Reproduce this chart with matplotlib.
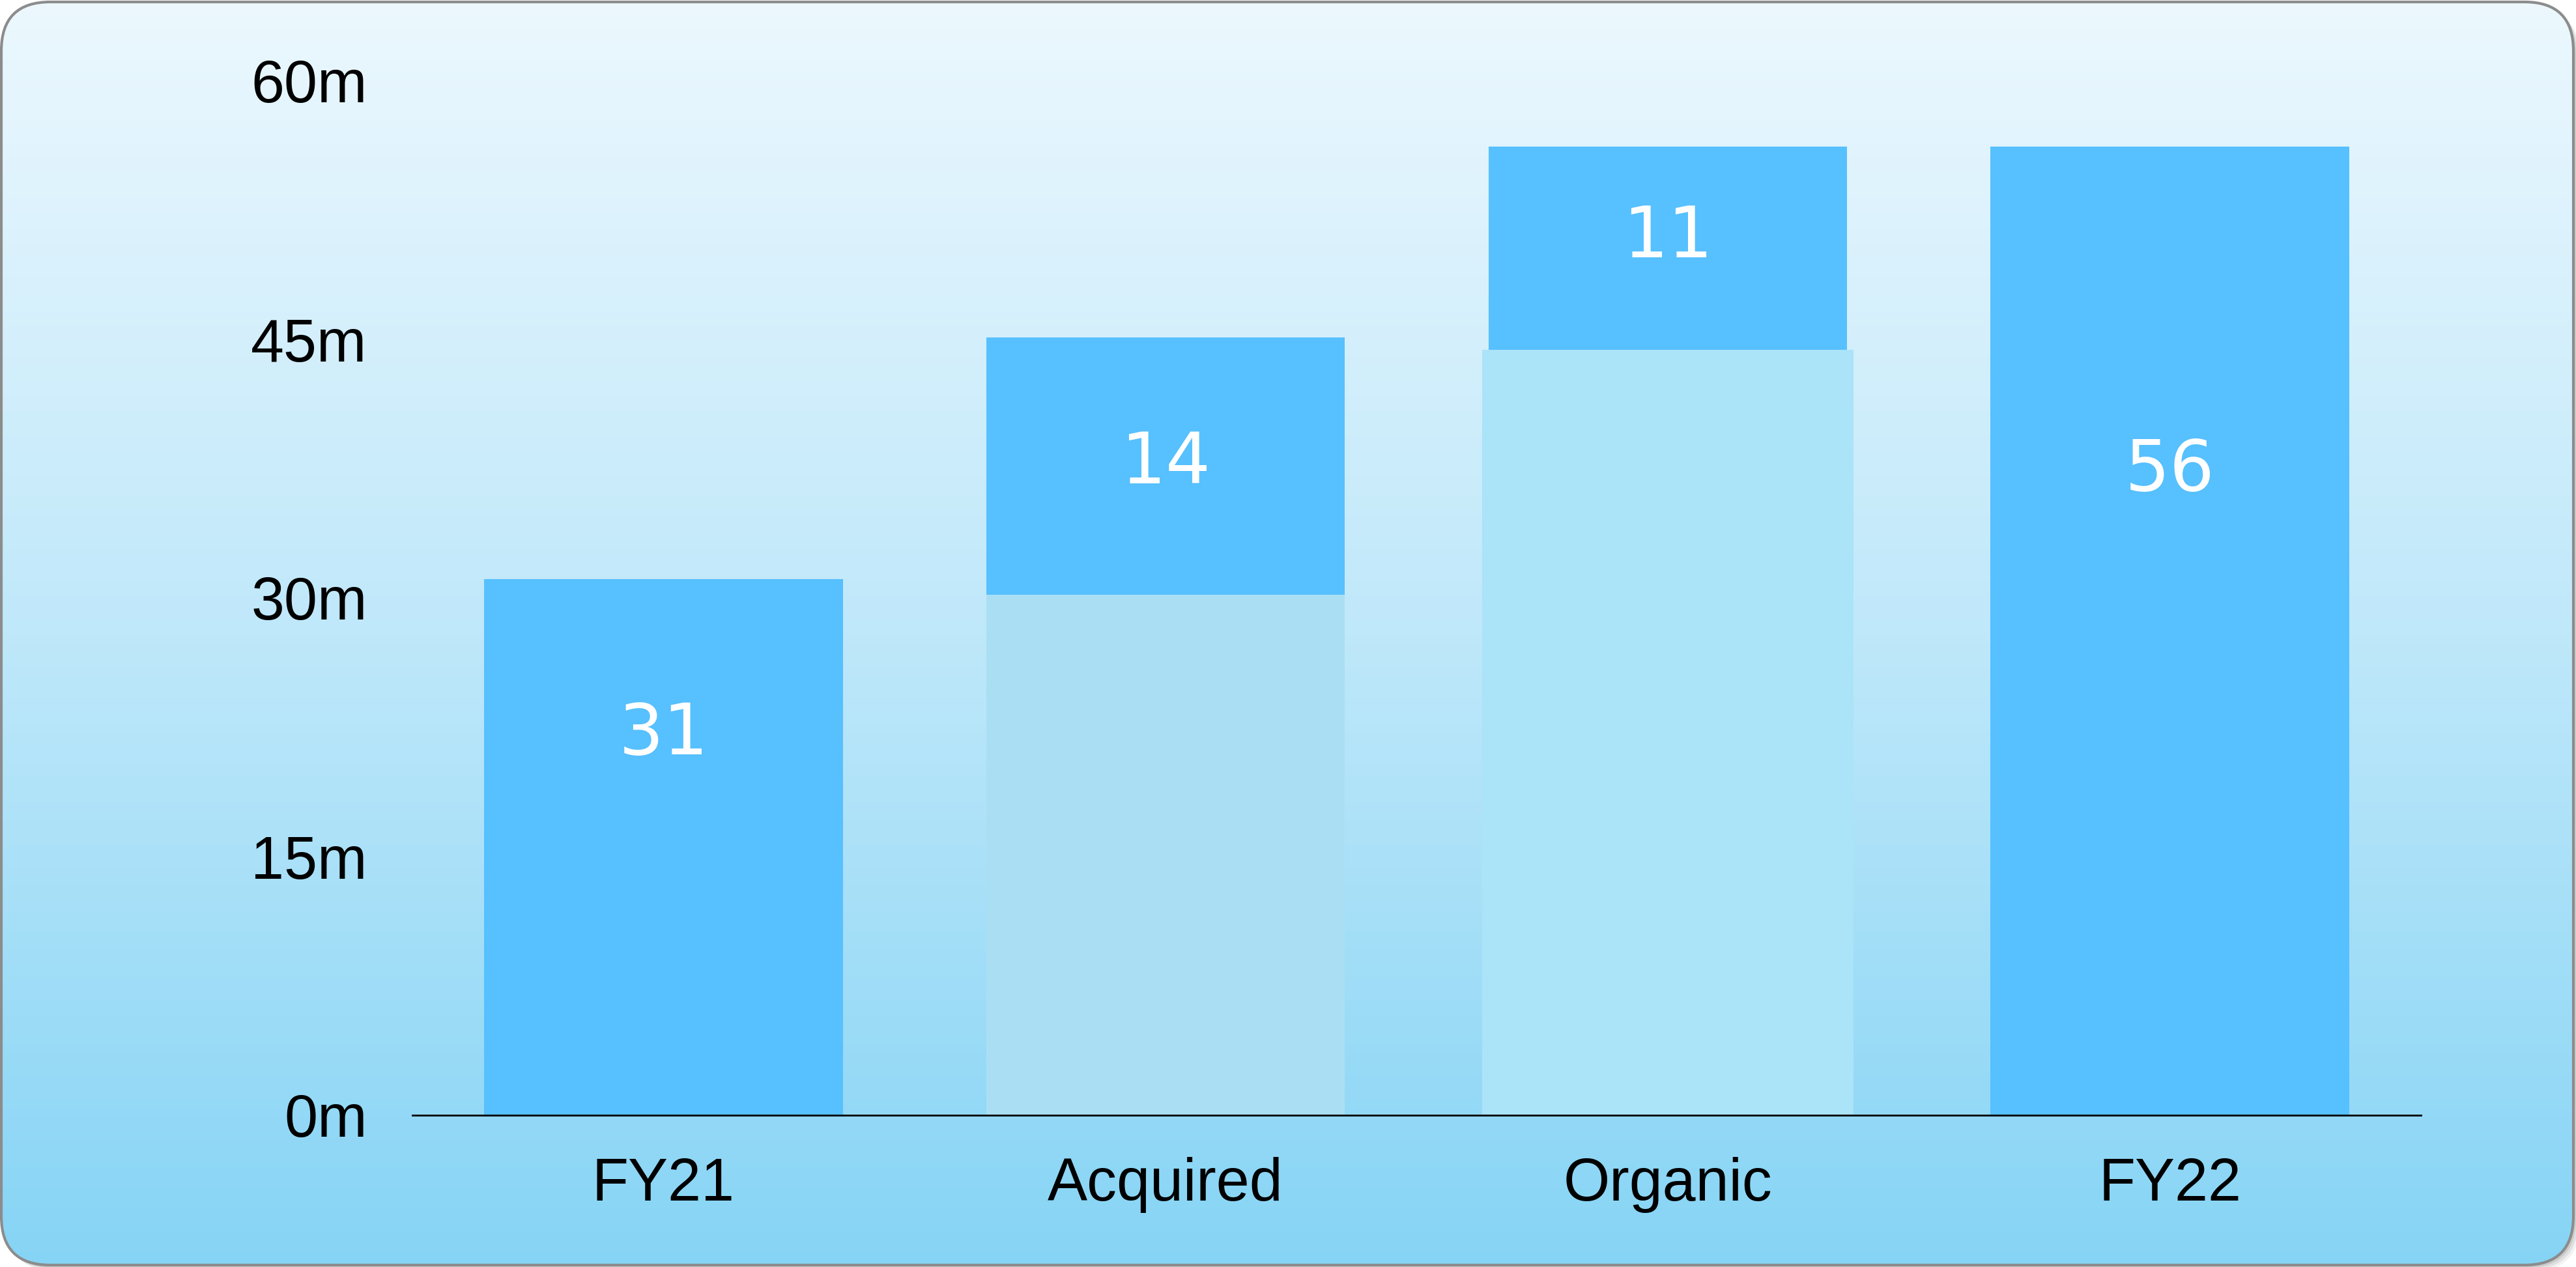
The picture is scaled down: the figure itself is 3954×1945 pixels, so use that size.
import numpy as np
import matplotlib.pyplot as plt
from matplotlib.patches import FancyBboxPatch
from matplotlib.colors import LinearSegmentedColormap

# bridge from FY21 to FY22, in millions
categories = ['FY21', 'Acquired', 'Organic', 'FY22']
values = [31.1, 14.9, 11.8, 56.2]
bases = [0, 30.2, 44.4, 0]
yticks = [0, 15, 30, 45, 60]
ytick_labels = ['0m', '15m', '30m', '45m', '60m']

W, H = 3954, 1945
fig = plt.figure(figsize=(W / 100, H / 100), dpi=100)

# rounded card with vertical gradient
bg = fig.add_axes([0, 0, 1, 1])
bg.set_xlim(0, W)
bg.set_ylim(0, H)
bg.axis('off')
for off, a in [(10, 0.05), (7, 0.07), (4, 0.09)]:
    bg.add_patch(FancyBboxPatch((2 + off, 3 - off), W - 6, H - 6,
                                boxstyle='round,pad=0,rounding_size=75',
                                fc='black', ec='none', alpha=a))
card = FancyBboxPatch((2, 3), W - 6, H - 6,
                      boxstyle='round,pad=0,rounding_size=75',
                      fc='none', ec='#8c8c8c', lw=3, zorder=3)
bg.add_patch(card)
cmap = LinearSegmentedColormap.from_list('card', ['#86d4f5', '#bfe8fa', '#ecf8fe'])
grad = np.linspace(0, 1, 256).reshape(-1, 1)
im = bg.imshow(grad, extent=[0, W, 0, H], origin='lower', cmap=cmap,
               aspect='auto', zorder=2)
im.set_clip_path(card)

ax = fig.add_axes([633 / W, 233 / H, (3716 - 633) / W, (1821 - 233) / H])
ax.patch.set_alpha(0)
x = np.arange(len(categories))

dark = '#57c0fe'
ax.bar(x[1], bases[1], width=0.714, color='#aadff3', zorder=2)
ax.bar(x[2], bases[2], width=0.74, color='#abe3f8', zorder=2)
ax.bar(x, values, bottom=bases, width=0.714, color=dark, zorder=3)

label_frac = [0.71, 0.51, 0.55, 0.665]
for xi, v, b, f in zip(x, values, bases, label_frac):
    ax.text(xi, b + f * v, str(int(v)), ha='center', va='center',
            color='white', fontsize=78, family='DejaVu Sans', zorder=4)

ax.set_xlim(-0.5, 3.5)
ax.set_ylim(0, 60)
ax.set_xticks(x)
ax.set_xticklabels(categories)
ax.set_yticks(yticks)
ax.set_yticklabels(ytick_labels)
ax.tick_params(length=0, labelsize=66, colors='black')
ax.tick_params(axis='y', pad=50)
ax.tick_params(axis='x', pad=46)
for lab in ax.get_xticklabels() + ax.get_yticklabels():
    lab.set_family('Liberation Sans')
for s in ['top', 'right', 'left']:
    ax.spines[s].set_visible(False)
ax.spines['bottom'].set_linewidth(2)
ax.spines['bottom'].set_zorder(5)

fig.savefig('out.png', dpi=100)
